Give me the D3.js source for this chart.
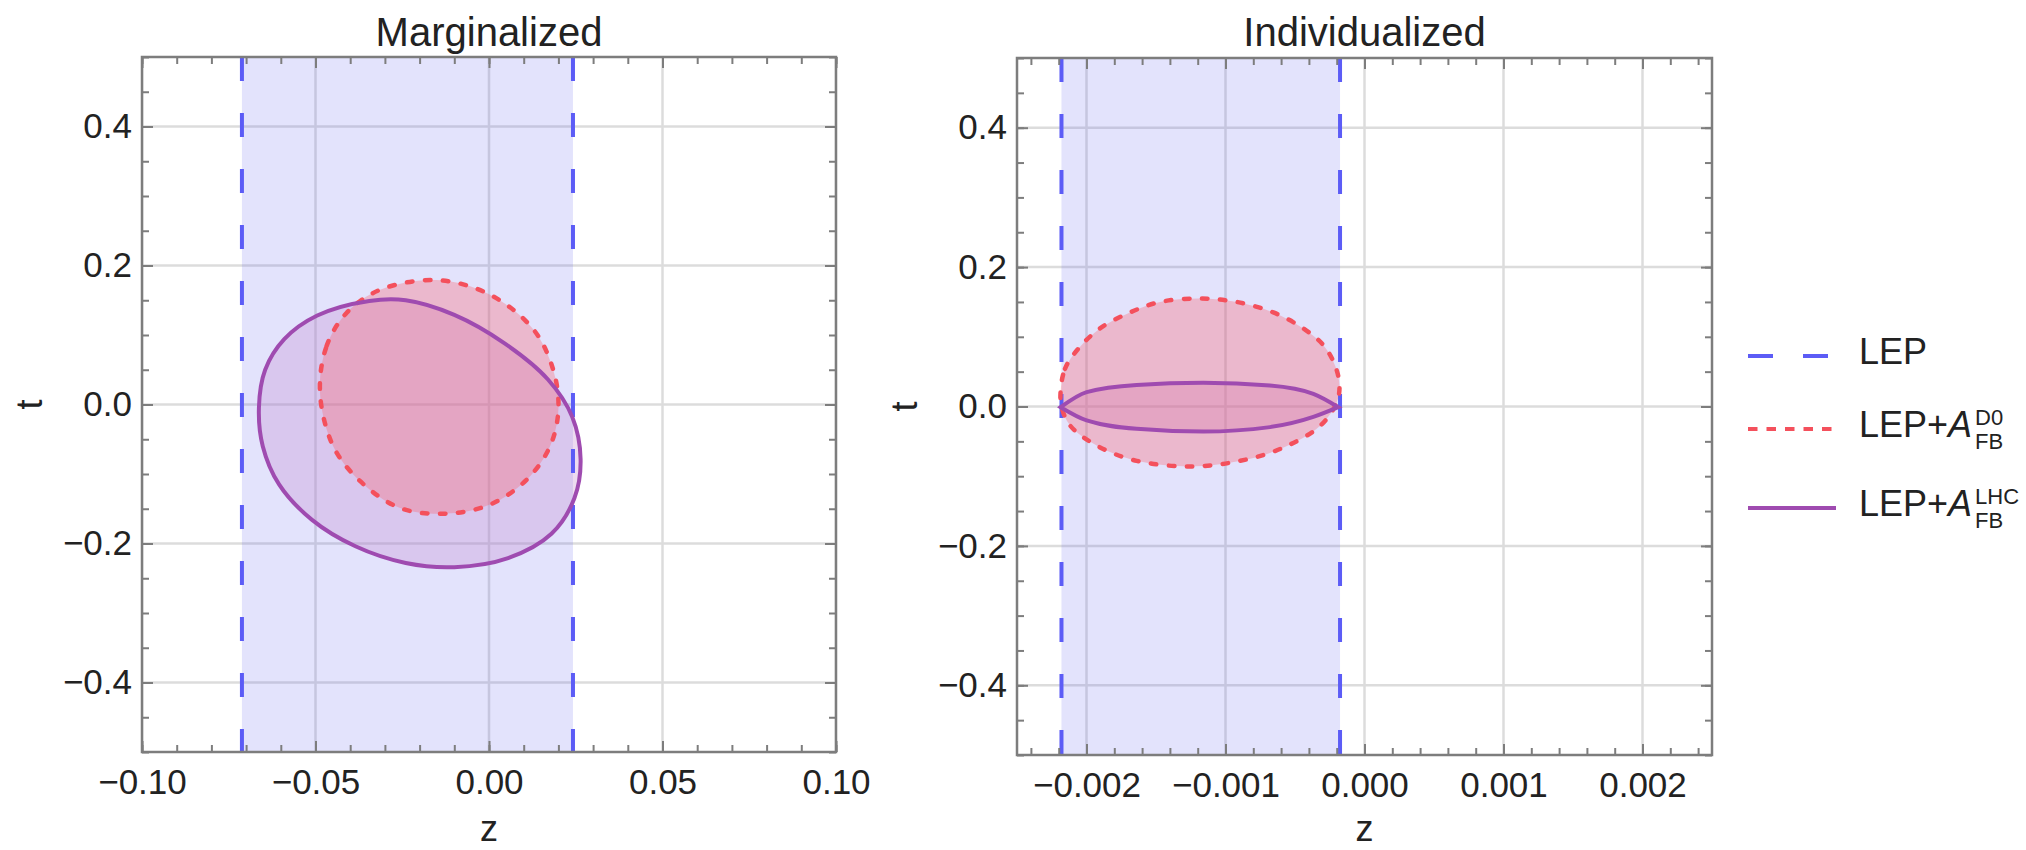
<!DOCTYPE html>
<html>
<head>
<meta charset="utf-8">
<script src="https://cdn.jsdelivr.net/npm/d3@7"></script>
<style>
  body { margin: 0; background: #fff; }
  text { font-family: "Liberation Sans", Arial, sans-serif; }
</style>
</head>
<body>
<svg id="chart" width="2026" height="850"></svg>
<script>
// values
var tTicks = [-0.4, -0.2, 0, 0.2, 0.4];
var margZTicks = [-0.10, -0.05, 0, 0.05, 0.10];
var indZTicks = [-0.002, -0.001, 0, 0.001, 0.002];

// LEP band edges in z
var margLEP = [-0.0712, 0.0242];
var indLEP = [-0.00218, -0.000176];

// contour points [z, t]
var margD0 = [
  [-0.0487, 0.017], [-0.0468, 0.084], [-0.0410, 0.132], [-0.0314, 0.165],
  [-0.0150, 0.179], [0.0003, 0.158], [0.0128, 0.108], [0.0185, 0.050],
  [0.0200, -0.007], [0.0176, -0.060], [0.0109, -0.108], [0.0003, -0.144],
  [-0.0122, -0.157], [-0.0256, -0.149], [-0.0372, -0.110], [-0.0449, -0.060]
];
var margLHC = [
  [-0.0663, -0.004], [-0.0645, 0.050], [-0.0590, 0.094], [-0.0495, 0.128],
  [-0.0345, 0.149], [-0.0240, 0.150], [-0.0100, 0.129], [0.0045, 0.088],
  [0.0170, 0.036], [0.0240, -0.018], [0.0264, -0.079], [0.0246, -0.135],
  [0.0180, -0.186], [0.0055, -0.221], [-0.0100, -0.234], [-0.0240, -0.228],
  [-0.0385, -0.204], [-0.0510, -0.166], [-0.0605, -0.115], [-0.0652, -0.060]
];
var indD0 = [
  [-0.002186, 0.022], [-0.002155, 0.054], [-0.002059, 0.083], [-0.001903, 0.112],
  [-0.001687, 0.135], [-0.001471, 0.150], [-0.001183, 0.155], [-0.000920, 0.150],
  [-0.000656, 0.135], [-0.000440, 0.112], [-0.000296, 0.088], [-0.000212, 0.059],
  [-0.000180, 0.030], [-0.000200, 0.006], [-0.000320, -0.028], [-0.000608, -0.061],
  [-0.000920, -0.079], [-0.001255, -0.086], [-0.001639, -0.078], [-0.001927, -0.056],
  [-0.002119, -0.027], [-0.002180, 0.000]
];
// lens: [z, upper t, lower t]
var indLHC = [
  [-0.002186, -0.001, -0.001], [-0.001999, 0.0207, -0.020], [-0.001639, 0.031, -0.032],
  [-0.001160, 0.034, -0.036], [-0.000680, 0.030, -0.0296], [-0.000368, 0.018, -0.015],
  [-0.000189, -0.001, -0.001]
];

var legendItems = [
  { base: "LEP", sup: "", sub: "", kind: "lep" },
  { base: "LEP+", sup: "D0", sub: "FB", kind: "d0" },
  { base: "LEP+", sup: "LHC", sub: "FB", kind: "lhc" }
];

var colLEP = "#5c5cf6", colD0 = "#f4505c", colLHC = "#9f4bb0";
var frameCol = "#7d7d7d", textCol = "#222";

var svg = d3.select("#chart");
svg.append("rect").attr("width", 2026).attr("height", 850).attr("fill", "#fff");

function drawPanel(p) {
    var x = d3.scaleLinear().domain(p.zDomain).range([p.left, p.right]);
    var y = d3.scaleLinear().domain([-0.5, 0.5]).range([p.bottom, p.top]);
    var g = svg.append("g");

    g.append("clipPath").attr("id", p.id + "-clip")
        .append("rect")
        .attr("x", p.left).attr("y", p.top)
        .attr("width", p.right - p.left).attr("height", p.bottom - p.top);

    var plot = g.append("g").attr("clip-path", "url(#" + p.id + "-clip)");

    // grid
    plot.selectAll("line.vg").data(p.zTicks).enter().append("line")
        .attr("x1", function(d) { return x(d); }).attr("x2", function(d) { return x(d); })
        .attr("y1", p.top).attr("y2", p.bottom)
        .attr("stroke", "#dcdcdc").attr("stroke-width", 2.5);
    plot.selectAll("line.hg").data(tTicks).enter().append("line")
        .attr("y1", function(d) { return y(d); }).attr("y2", function(d) { return y(d); })
        .attr("x1", p.left).attr("x2", p.right)
        .attr("stroke", "#dcdcdc").attr("stroke-width", 2.5);

    // LEP band
    plot.append("rect")
        .attr("x", x(p.lep[0])).attr("width", x(p.lep[1]) - x(p.lep[0]))
        .attr("y", p.top).attr("height", p.bottom - p.top)
        .attr("fill", "#6464f0").attr("fill-opacity", 0.18);

    var closed = d3.line()
        .x(function(d) { return x(d[0]); })
        .y(function(d) { return y(d[1]); })
        .curve(d3.curveCatmullRomClosed.alpha(0.5));

    var lhcPath;
    if (p.lhcArea) {
        lhcPath = d3.area()
            .x(function(d) { return x(d[0]); })
            .y1(function(d) { return y(d[1]); })
            .y0(function(d) { return y(d[2]); })
            .curve(d3.curveMonotoneX)(p.lhc);
    } else {
        lhcPath = closed(p.lhc);
    }
    var d0Path = closed(p.d0);

    plot.append("path").attr("d", lhcPath)
        .attr("fill", "#c589cd").attr("fill-opacity", 0.3);
    plot.append("path").attr("d", d0Path)
        .attr("fill", "#fe575f").attr("fill-opacity", 0.3);

    // LEP dashed edges
    plot.selectAll("line.lep").data(p.lep).enter().append("line")
        .attr("x1", function(d) { return x(d); }).attr("x2", function(d) { return x(d); })
        .attr("y1", p.top).attr("y2", p.bottom)
        .attr("stroke", colLEP).attr("stroke-width", 4)
        .attr("stroke-dasharray", "24,32");

    plot.append("path").attr("d", d0Path)
        .attr("fill", "none").attr("stroke", colD0).attr("stroke-width", 4.5)
        .attr("stroke-linecap", "round").attr("stroke-dasharray", "5.5,12.5");
    plot.append("path").attr("d", lhcPath)
        .attr("fill", "none").attr("stroke", colLHC).attr("stroke-width", 4);

    // axes, ticks inward on all four sides
    function styleAxis(ax) {
        ax.select(".domain").remove();
        ax.selectAll(".tick line").attr("stroke", frameCol).attr("stroke-width", 2);
        ax.selectAll("text").attr("fill", textCol)
            .attr("font-family", "Liberation Sans, Arial, sans-serif").attr("font-size", 35);
    }
    var fmt = d3.format(p.fmt);
    var bottom = p.bottom, left = p.left;

    styleAxis(g.append("g").attr("transform", "translate(0," + bottom + ")")
        .call(d3.axisBottom(x).tickValues(p.zMinor).tickFormat("").tickSize(-7)));
    styleAxis(g.append("g").attr("transform", "translate(0," + bottom + ")")
        .call(d3.axisBottom(x).tickValues(p.zTicks).tickFormat(fmt).tickSize(-11).tickPadding(17)));
    styleAxis(g.append("g").attr("transform", "translate(0," + p.top + ")")
        .call(d3.axisTop(x).tickValues(p.zMinor).tickFormat("").tickSize(-7)));
    styleAxis(g.append("g").attr("transform", "translate(0," + p.top + ")")
        .call(d3.axisTop(x).tickValues(p.zTicks).tickFormat("").tickSize(-11)));

    var tMinor = d3.range(-10, 11).map(function(i) { return i * 0.05; });
    styleAxis(g.append("g").attr("transform", "translate(" + left + ",0)")
        .call(d3.axisLeft(y).tickValues(tMinor).tickFormat("").tickSize(-7)));
    styleAxis(g.append("g").attr("transform", "translate(" + left + ",0)")
        .call(d3.axisLeft(y).tickValues(tTicks).tickFormat(d3.format(".1f")).tickSize(-11).tickPadding(10)));
    styleAxis(g.append("g").attr("transform", "translate(" + p.right + ",0)")
        .call(d3.axisRight(y).tickValues(tMinor).tickFormat("").tickSize(-7)));
    styleAxis(g.append("g").attr("transform", "translate(" + p.right + ",0)")
        .call(d3.axisRight(y).tickValues(tTicks).tickFormat("").tickSize(-11)));

    // frame
    g.append("rect")
        .attr("x", p.left).attr("y", p.top)
        .attr("width", p.right - p.left).attr("height", p.bottom - p.top)
        .attr("fill", "none").attr("stroke", frameCol).attr("stroke-width", 2.5);

    var cx = (p.left + p.right) / 2;
    g.append("text").attr("x", cx).attr("y", 46)
        .attr("text-anchor", "middle").attr("font-size", 40).attr("fill", textCol)
        .text(p.title);
    g.append("text").attr("x", cx).attr("y", 841)
        .attr("text-anchor", "middle").attr("font-size", 36).attr("fill", textCol)
        .text("z");
    g.append("text")
        .attr("transform", "translate(" + (p.left - 100) + "," + y(0) + ") rotate(-90)")
        .attr("text-anchor", "middle").attr("font-size", 36).attr("fill", textCol)
        .text("t");
}

drawPanel({
    id: "marg", title: "Marginalized",
    left: 142, right: 836, top: 57, bottom: 752,
    zDomain: [-0.1, 0.1], zTicks: margZTicks, fmt: ".2f",
    zMinor: d3.range(-10, 11).map(function(i) { return i * 0.01; }),
    lep: margLEP, d0: margD0, lhc: margLHC, lhcArea: false
});
drawPanel({
    id: "ind", title: "Individualized",
    left: 1017, right: 1712, top: 58, bottom: 755,
    zDomain: [-0.0025, 0.0025], zTicks: indZTicks, fmt: ".3f",
    zMinor: d3.range(-12, 13).map(function(i) { return i * 0.0002; }),
    lep: indLEP, d0: indD0, lhc: indLHC, lhcArea: true
});

// legend
var legend = svg.append("g");
var legY = [364, 437, 516];
legendItems.forEach(function(item, i) {
    var by = legY[i], ly = by - 8;
    var line = legend.append("line")
        .attr("x1", 1748).attr("x2", 1836).attr("y1", ly).attr("y2", ly)
        .attr("stroke-width", 4);
    if (item.kind === "lep") {
        line.attr("x2", 1828).attr("stroke", colLEP).attr("stroke-dasharray", "25,30");
    } else if (item.kind === "d0") {
        line.attr("stroke", colD0).attr("stroke-dasharray", "9.5,9");
    } else {
        line.attr("stroke", colLHC);
    }

    var t = legend.append("text").attr("x", 1859).attr("y", by)
        .attr("font-size", 36).attr("fill", textCol);
    t.append("tspan").text(item.base);
    if (item.sup) {
        t.append("tspan").attr("font-style", "italic").text("A");
        var w = t.node().getComputedTextLength();
        legend.append("text").attr("x", 1859 + w + 3).attr("y", by - 12)
            .attr("font-size", 22).attr("fill", textCol).text(item.sup);
        legend.append("text").attr("x", 1859 + w + 3).attr("y", by + 12)
            .attr("font-size", 22).attr("fill", textCol).text(item.sub);
    }
});
</script>
</body>
</html>
